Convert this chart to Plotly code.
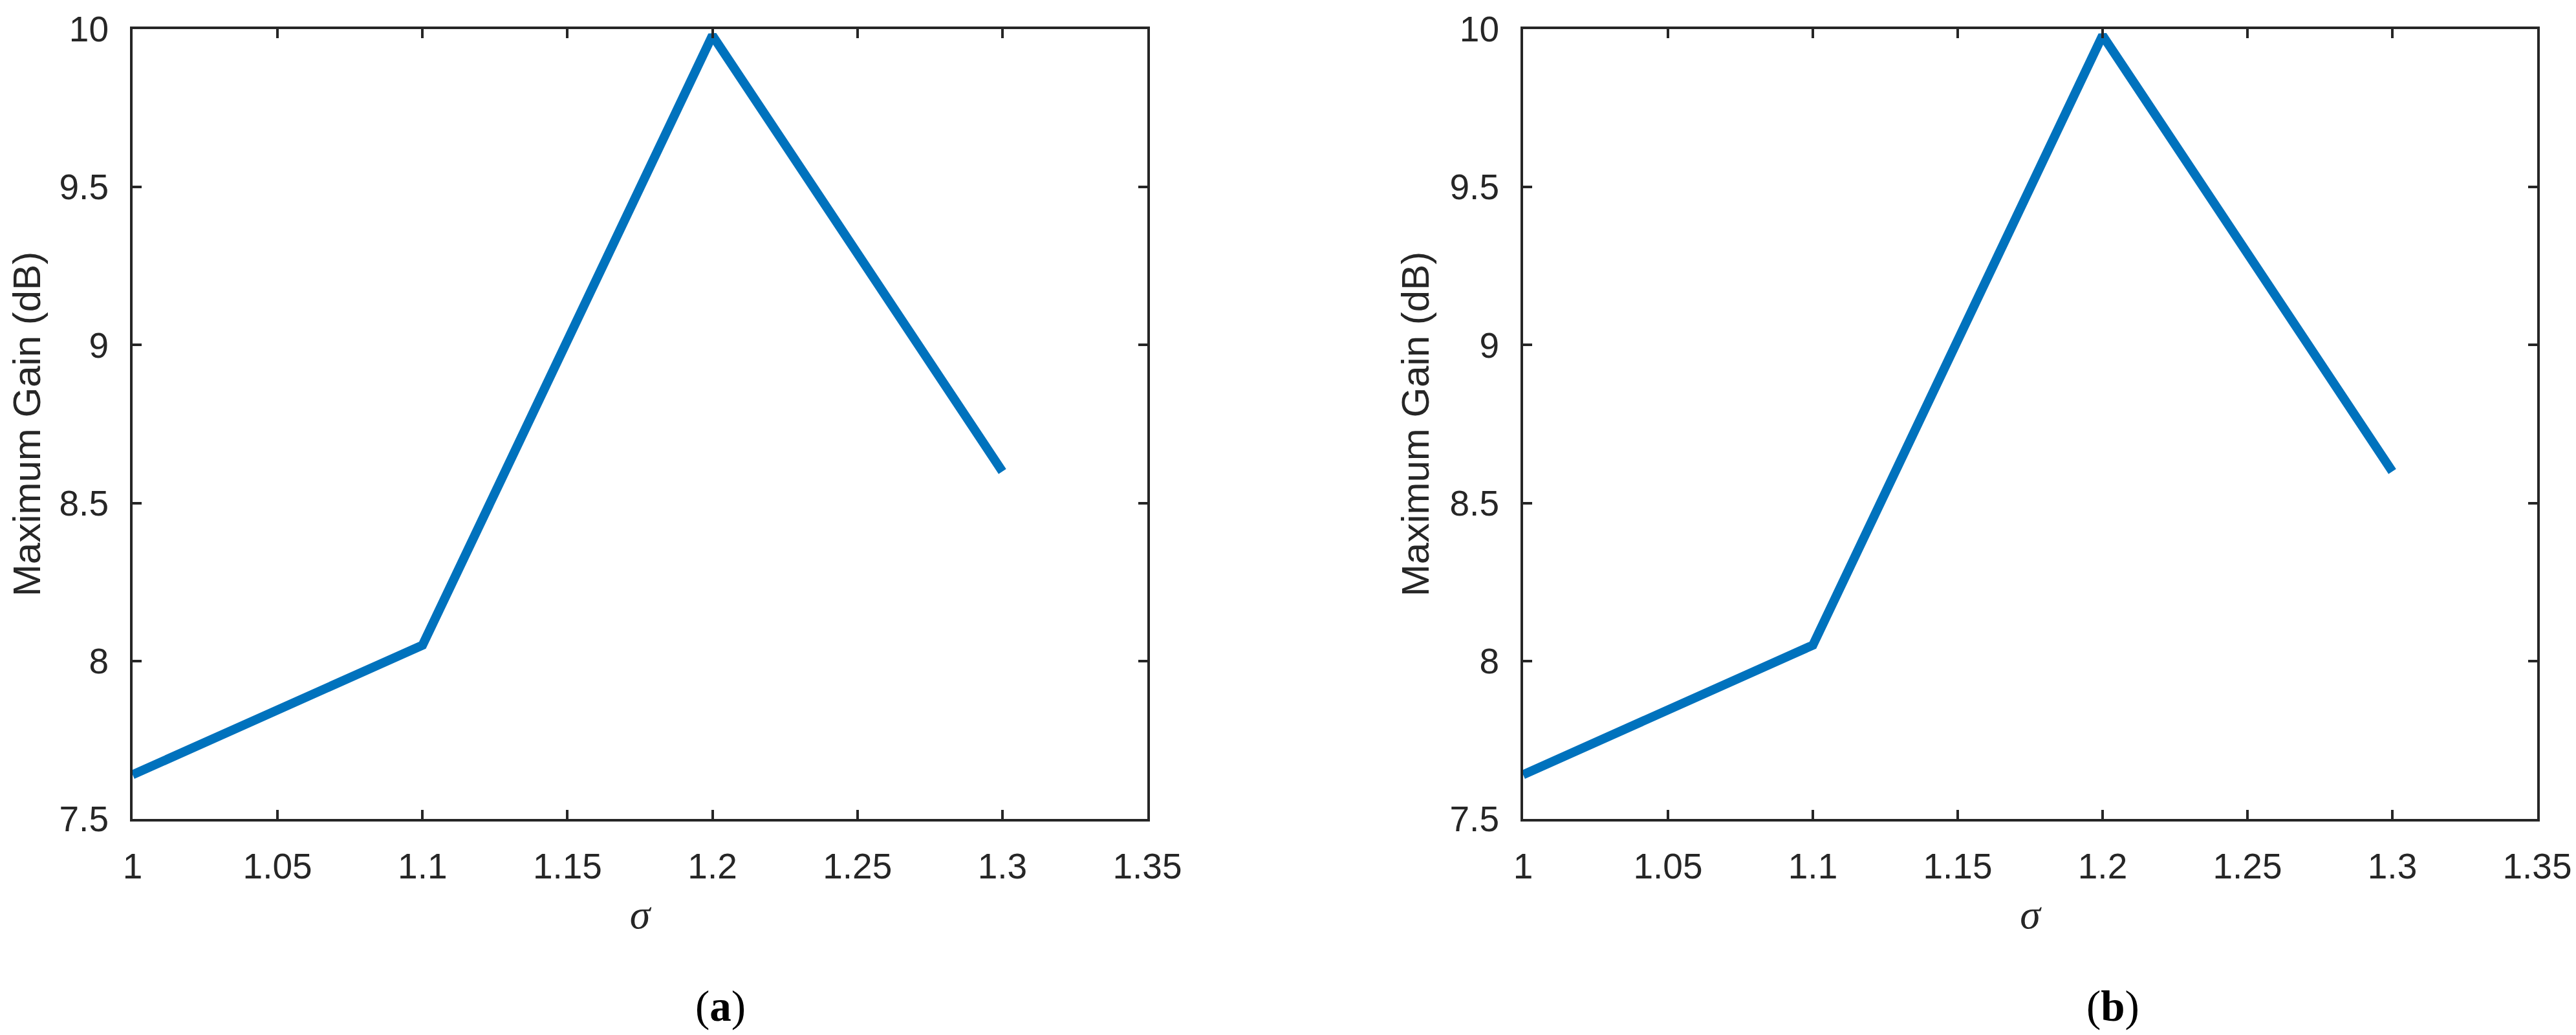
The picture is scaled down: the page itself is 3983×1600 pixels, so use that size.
import plotly.graph_objects as go

# Data
sigma = [1.0, 1.1, 1.2, 1.3]
gain_a = [7.64, 8.05, 9.98, 8.60]
gain_b = [7.64, 8.05, 9.98, 8.60]

x_ticks = [1, 1.05, 1.1, 1.15, 1.2, 1.25, 1.3, 1.35]
x_ticklabels = ["1", "1.05", "1.1", "1.15", "1.2", "1.25", "1.3", "1.35"]
y_ticks = [7.5, 8, 8.5, 9, 9.5, 10]
y_ticklabels = ["7.5", "8", "8.5", "9", "9.5", "10"]

W, H = 3983, 1600
AX = "#262626"
LINE = "#0072BD"

fig = go.Figure()
fig.add_trace(go.Scatter(x=sigma, y=gain_a, mode="lines",
                         line=dict(color=LINE, width=14), xaxis="x", yaxis="y",
                         showlegend=False))
fig.add_trace(go.Scatter(x=sigma, y=gain_b, mode="lines",
                         line=dict(color=LINE, width=14), xaxis="x2", yaxis="y2",
                         showlegend=False))

ydom = [1 - 1258 / H, 1 - 37 / H]
xdom1 = [197 / W, 1766 / W]
xdom2 = [2347 / W, 3915 / W]

tickfont = dict(family="Liberation Sans, Arial", size=55, color=AX)

def xaxis(dom, anchor):
    return dict(domain=dom, anchor=anchor, range=[1, 1.35],
                tickmode="array", tickvals=x_ticks, ticktext=x_ticklabels,
                ticks="inside", ticklen=14, tickwidth=4, tickcolor=AX,
                showline=True, linewidth=4, linecolor=AX, mirror="ticks",
                showgrid=False, zeroline=False, tickfont=tickfont,
                ticklabelstandoff=22, automargin=False,
                title=dict(text="σ", standoff=22,
                           font=dict(family="Liberation Serif, Times New Roman",
                                     size=64, color=AX, style="italic")))

def yaxis(anchor):
    return dict(domain=ydom, anchor=anchor, range=[7.5, 10],
                tickmode="array", tickvals=y_ticks, ticktext=y_ticklabels,
                ticks="inside", ticklen=14, tickwidth=4, tickcolor=AX,
                showline=True, linewidth=4, linecolor=AX, mirror="ticks",
                showgrid=False, zeroline=False, tickfont=tickfont,
                ticklabelstandoff=22, automargin=False,
                title=dict(text="Maximum Gain (dB)", standoff=14,
                           font=dict(family="Liberation Sans, Arial", size=60, color=AX)))

fig.update_layout(
    width=W, height=H,
    margin=dict(l=0, r=0, t=0, b=0, pad=0),
    paper_bgcolor="white", plot_bgcolor="white",
    xaxis=xaxis(xdom1, "y"), yaxis=yaxis("x"),
    xaxis2=xaxis(xdom2, "y2"), yaxis2=yaxis("x2"),
    annotations=[
        dict(text="(<b>a</b>)", x=1106 / W, y=1 - 1547 / H, xref="paper", yref="paper",
             xanchor="center", yanchor="middle", showarrow=False,
             font=dict(family="Liberation Serif, Times New Roman", size=67, color="#000000")),
        dict(text="(<b>b</b>)", x=3259 / W, y=1 - 1547 / H, xref="paper", yref="paper",
             xanchor="center", yanchor="middle", showarrow=False,
             font=dict(family="Liberation Serif, Times New Roman", size=67, color="#000000")),
    ],
)

fig.write_html("out.html")
